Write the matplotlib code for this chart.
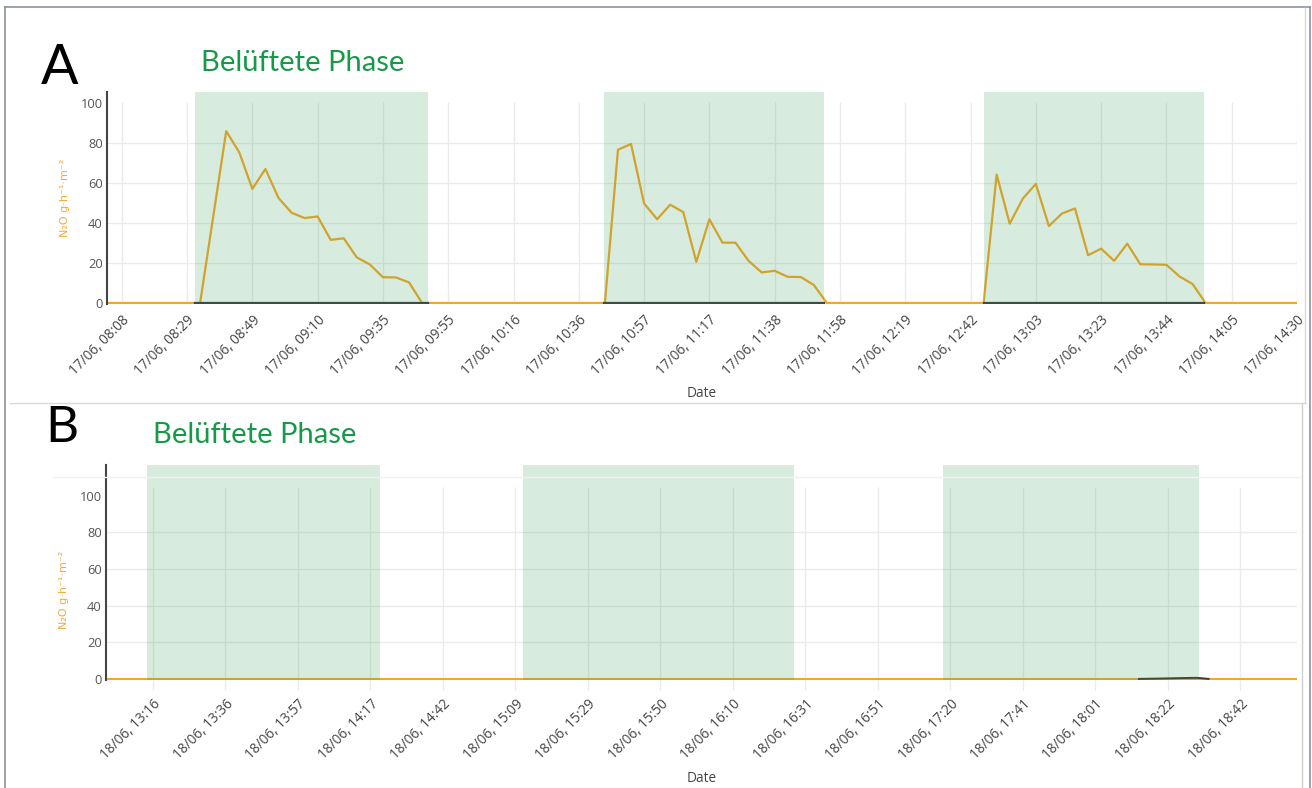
import matplotlib.pyplot as plt
from matplotlib.lines import Line2D

# ---- data -------------------------------------------------------------
# x = sample index (one sample ~4 min, a tick label every 5 samples)
a_ticks = ["17/06, 08:08", "17/06, 08:29", "17/06, 08:49", "17/06, 09:10",
           "17/06, 09:35", "17/06, 09:55", "17/06, 10:16", "17/06, 10:36",
           "17/06, 10:57", "17/06, 11:17", "17/06, 11:38", "17/06, 11:58",
           "17/06, 12:19", "17/06, 12:42", "17/06, 13:03", "17/06, 13:23",
           "17/06, 13:44", "17/06, 14:05", "17/06, 14:30"]
b_ticks = ["18/06, 13:16", "18/06, 13:36", "18/06, 13:57", "18/06, 14:17",
           "18/06, 14:42", "18/06, 15:09", "18/06, 15:29", "18/06, 15:50",
           "18/06, 16:10", "18/06, 16:31", "18/06, 16:51", "18/06, 17:20",
           "18/06, 17:41", "18/06, 18:01", "18/06, 18:22", "18/06, 18:42"]

a_x = [-2, 6, 8, 9, 10, 11, 12, 13, 14, 15, 16, 17, 18, 19, 20, 21, 22, 23,
       37, 38, 39, 40, 41, 42, 43, 44, 45, 46, 47, 48, 49, 50, 51, 52, 53, 54,
       66, 67, 68, 69, 70, 71, 72, 73, 74, 75, 76, 77, 78, 79, 80, 81, 82, 83,
       92]
a_y = [0, 0, 86.0, 75.4, 57.1, 67.1, 52.6, 45.2, 42.5, 43.3, 31.6, 32.4, 22.8,
       19.3, 12.9, 12.8, 10.3, 0,
       0, 76.7, 79.6, 49.8, 41.9, 49.2, 45.5, 20.6, 41.9, 30.2, 30.2, 21.1,
       15.3, 16.1, 13.1, 13.0, 9.0, 0,
       0, 64.3, 39.7, 52.2, 59.6, 38.5, 44.8, 47.3, 23.9, 27.2, 21.1, 29.7,
       19.4, 19.3, 19.1, 13.3, 9.5, 0,
       0]

b_x = [-5, 80]
b_y = [0, 0]
b_dark_x = [68, 69.5, 71, 72, 72.8]
b_dark_y = [0, 0.2, 0.45, 0.6, 0]

# aerated phases (start, end) in sample index
a_phases = [(5.6, 23.45), (36.9, 53.8), (66.0, 82.9)]
b_phases = [(-0.41, 15.66), (25.53, 44.23), (54.5, 72.17)]

# ---- style ------------------------------------------------------------
ORANGE = "#f5a623"
SHADE = (0.2, 0.6, 0.35, 0.19)
GRID = "#ebebeb"
GREEN_TXT = "#179a48"
W, H = 1312, 788

fig = plt.figure(figsize=(W / 100, H / 100), dpi=100)


def fx(px):
    return px / W


def fy(py):
    return 1 - py / H


def panel(rect, ticks, xlim, ylim, phases, grid_top, tick_len, label_y):
    ax = fig.add_axes(rect)
    ax.set_xlim(*xlim)
    ax.set_ylim(*ylim)
    pos = [5 * i for i in range(len(ticks))]
    ax.hlines([20, 40, 60, 80], xlim[0], xlim[1], color=GRID, lw=1, zorder=0.5)
    ax.vlines(pos, 0, grid_top, color=GRID, lw=1, zorder=0.5)
    for s, e in phases:
        ax.axvspan(s, e, ymin=0, ymax=1, color=SHADE, lw=0, zorder=3)
    for side in ["top", "right", "bottom"]:
        ax.spines[side].set_visible(False)
    ax.spines["left"].set_color("#444444")
    ax.spines["left"].set_linewidth(1.5)
    ax.set_yticks([0, 20, 40, 60, 80, 100])
    ax.set_xticks(pos)
    ax.set_xticklabels(ticks, rotation=45, ha="right", rotation_mode="anchor",
                       fontsize=9.8, color="#444444", family="Open Sans")
    for t in ax.get_yticklabels():
        t.set_family("Open Sans")
    ax.tick_params(axis="y", length=0, pad=3, labelsize=9.3, labelcolor="#555555")
    ax.tick_params(axis="x", length=tick_len, color=GRID, width=1,
                   pad=6 if tick_len == 0 else 5)
    ax.set_xlabel("Date", fontsize=9.8, color="#444444", family="Open Sans")
    ax.set_ylabel("N₂O g·h⁻¹·m⁻²", fontsize=8, color="#f2a93b",
                  family="DejaVu Sans")
    ax.yaxis.set_label_coords(-0.031, label_y)
    return ax


# panel A
axA = panel([fx(107), fy(304), fx(1297 - 107), (304 - 92) / H], a_ticks,
            (-1.13, 90.0), (-0.5, 105.6), a_phases, 100.8, 0, 0.5)
axA.plot(a_x, a_y, color=ORANGE, lw=1.6, zorder=2)
for s, e in a_phases:
    axA.plot([s, e], [0, 0], color="#3d3d3d", lw=1.6, zorder=2.2)
axA.xaxis.set_label_coords(0.5, -0.385)

# panel B
axB = panel([fx(106), fy(680), fx(1297 - 106), (680 - 465) / H], b_ticks,
            (-3.24, 78.9), (-0.6, 116.7), b_phases, 104.7, 7, 0.42)
axB.plot(b_x, b_y, color=ORANGE, lw=2.2, zorder=2)
axB.plot(b_dark_x, b_dark_y, color="#4a3a20", lw=1.4, zorder=2.2)
axB.xaxis.set_label_coords(0.5, -0.425)

# panel letters and phase titles
fig.text(fx(41), fy(84), "A", fontsize=40, family="Lato", color="black",
         ha="left", va="baseline")
fig.text(fx(201), fy(71), "Belüftete Phase", fontsize=21, family="Lato",
         color=GREEN_TXT, ha="left", va="baseline")
fig.text(fx(45), fy(442), "B", fontsize=37, family="Lato", color="black",
         ha="left", va="baseline")
fig.text(fx(153), fy(443), "Belüftete Phase", fontsize=21, family="Lato",
         color=GREEN_TXT, ha="left", va="baseline")

# frame lines of the composed figure
frame = [((5, 5), (7, 788), "#8c919b", 1.2),
         ((5, 1310), (7, 7), "#8c919b", 1.2),
         ((1310, 1310), (7, 788), "#8c919b", 1.2),
         ((10, 1306), (403, 403), "#d9d9d9", 1.0),
         ((1305, 1305), (8, 403), "#d9d9d9", 1.0),
         ((1302, 1302), (403, 788), "#cfcfcf", 1.0),
         ((53, 1300), (477, 477), "#f2f2f2", 1.0)]
for xs, ys, c, lw in frame:
    fig.add_artist(Line2D([fx(xs[0]), fx(xs[1])], [fy(ys[0]), fy(ys[1])],
                          color=c, lw=lw, transform=fig.transFigure))

fig.savefig("out.png", dpi=100)
